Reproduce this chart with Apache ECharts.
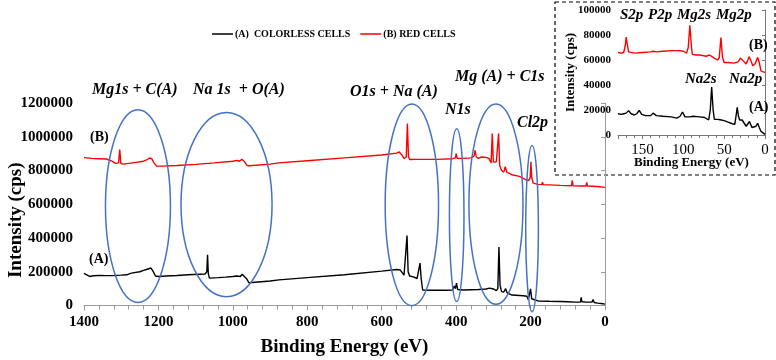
<!DOCTYPE html>
<html><head><meta charset="utf-8">
<script src="https://cdn.jsdelivr.net/npm/echarts@6/dist/echarts.min.js"></script>
<style>html,body{margin:0;padding:0;background:#fff}#c{width:776px;height:360px}</style>
</head><body><div id="c"></div>
<script>
// ---------- DATA ----------
const seriesNames = ['(A)  COLORLESS CELLS', '(B) RED CELLS'];
const mainXTitle = 'Binding Energy (eV)';
const mainYTitle = 'Intensity (cps)';

// Main survey spectrum, sample A (colorless cells): [binding energy eV, intensity cps]
const mainA = [[1400,190000],[1395,182000],[1385,172000],[1375,176000],[1360,178000],[1340,177000],[1320,178000],[1300,180000],[1285,182000],[1275,190000],[1265,195000],[1250,200000],[1240,208000],[1230,215000],[1225,225000],[1220,222000],[1215,205000],[1208,175000],[1200,172000],[1180,175000],[1150,178000],[1120,182000],[1090,185000],[1075,186000],[1070,200000],[1068,300000],[1066,190000],[1063,162000],[1040,165000],[1020,168000],[1000,172000],[995,180000],[990,175000],[980,172000],[975,185000],[970,178000],[962,155000],[957,135000],[940,138000],[900,145000],[876,152000],[800,165000],[700,182000],[600,204000],[560,213000],[550,210000],[545,200000],[540,180000],[535,185000],[532,415000],[529,200000],[525,175000],[515,170000],[505,160000],[500,165000],[497,251000],[494,160000],[490,92000],[470,90000],[430,90000],[410,92000],[405,115000],[402,100000],[399,132000],[396,95000],[380,92000],[340,95000],[320,98000],[310,103000],[300,98000],[292,88000],[288,100000],[285,346000],[282,120000],[278,82000],[272,80000],[267,100000],[263,75000],[250,62000],[220,58000],[210,55000],[206,35000],[203,45000],[200,99000],[197,40000],[193,30000],[180,27000],[150,25000],[120,24000],[100,22000],[80,20000],[66,20000],[64,48000],[62,22000],[50,20000],[35,20000],[32,35000],[29,18000],[20,14000],[10,12000],[0,8000]];

// Main survey spectrum, sample B (red cells)
const mainB = [[1400,876000],[1380,872000],[1360,870000],[1340,868000],[1325,855000],[1315,842000],[1307,845000],[1304,924000],[1301,842000],[1295,838000],[1280,842000],[1260,848000],[1240,855000],[1230,865000],[1224,874000],[1218,870000],[1212,845000],[1205,826000],[1190,826000],[1150,830000],[1100,836000],[1050,845000],[1000,855000],[990,860000],[983,855000],[975,866000],[968,850000],[962,830000],[955,828000],[900,838000],[876,845000],[800,858000],[700,875000],[600,892000],[560,903000],[553,910000],[547,895000],[540,872000],[534,880000],[531,1078000],[528,880000],[524,865000],[510,866000],[499,866000],[497,876000],[494,866000],[450,866000],[410,870000],[402,875000],[400,900000],[397,872000],[380,872000],[360,875000],[352,885000],[349,920000],[346,880000],[340,872000],[332,880000],[328,888000],[320,878000],[312,872000],[306,845000],[303,1019000],[300,850000],[292,852000],[288,860000],[286,1019000],[283,830000],[278,800000],[272,790000],[268,822000],[264,790000],[250,775000],[230,765000],[212,745000],[205,740000],[201,760000],[199,851000],[197,760000],[193,725000],[180,718000],[170,716000],[168,730000],[166,716000],[120,712000],[90,710000],[88,742000],[86,710000],[60,708000],[51,708000],[49,730000],[47,708000],[20,705000],[0,700000]];

// Inset (low binding energy region)
const insetA = [[180,17000],[176,16500],[173,17000],[170,17500],[167,19500],[164,17000],[160,16000],[157,17000],[154,19700],[151,16500],[146,15500],[140,15500],[137,17500],[135,18000],[133,15500],[125,15000],[115,14500],[108,13500],[104,15000],[101,18400],[98,14500],[92,14500],[88,15000],[80,14500],[74,14000],[69,12000],[67,20000],[65.3,38400],[63.5,20000],[62,12500],[58,12500],[55,12200],[50,11500],[46,10500],[40,9000],[37,8500],[35.5,15000],[34,22100],[32.5,15000],[31,12000],[28,12000],[25,9000],[23,7000],[19,10800],[16,6000],[14,5500],[11,7000],[9,9400],[7,6000],[5,3000],[2,1500],[0,500]];
const insetB = [[180,66000],[176,65500],[173,66000],[171,72000],[170,78300],[169,74000],[167,66500],[160,65500],[150,66000],[140,66500],[137,67000],[135,68500],[133,66500],[125,67000],[115,67500],[105,67500],[100,67000],[96,65500],[94,70000],[92,87800],[90,70000],[89,64500],[85,64000],[80,64000],[72,63000],[68,64000],[66,64500],[62,61500],[58,60000],[56,62000],[54,77900],[52,62000],[50,58000],[45,58000],[38,57500],[33,58500],[30,61600],[27,59500],[23,56800],[21,60000],[19.5,62700],[17,59000],[15,55400],[12,57000],[9,62100],[7,58000],[5,51300],[2,50500],[0,50000]];

// Peak-group ellipses on the main plot, in data units: centre eV, centre cps, half-width eV, half-height cps
const ellipseCx = [1255, 1017, 519, 398.5, 293, 196];
const ellipseCy = [589300, 598200, 596400, 535300, 600600, 455800];
const ellipseRx = [87.3, 122.3, 71.7, 19.6, 72.6, 17];
const ellipseRy = [570900, 546000, 597600, 512200, 593500, 492600];

// ---------- CHART ----------
const SERIF = '"Liberation Serif", "Times New Roman", serif';
const chart = echarts.init(document.getElementById('c'), null, {renderer: 'canvas'});
const plain = v => String(v);
const gray = '#9a9a9a';

const option = {
  animation: false,
  backgroundColor: '#fff',
  legend: {
    data: seriesNames.map(n => ({name: n, icon: 'rect'})), left: 207, top: 24, itemWidth: 21, itemHeight: 1.5, itemGap: 10,
    textStyle: {fontFamily: SERIF, fontWeight: 'bold', fontSize: 10, color: '#000', padding: [0,0,0,-3]}
  },
  grid: [
    {left: 84, right: 171, top: 103, bottom: 54.5, outerBoundsMode: 'none', containLabel: false},
    {left: 618, right: 11, top: 10, bottom: 225, outerBoundsMode: 'none', containLabel: false}
  ],
  xAxis: [
    {gridIndex: 0, type: 'value', inverse: true, min: 0, max: 1400, interval: 200,
     name: mainXTitle, nameLocation: 'middle', nameGap: 32, nameMoveOverlap: false,
     nameTextStyle: {fontFamily: SERIF, fontWeight: 'bold', fontSize: 19, color: '#000'},
     axisLine: {lineStyle: {color: gray, width: 1}},
     axisTick: {show: true, length: 5, lineStyle: {color: gray}},
     minorTick: {show: true, splitNumber: 5, length: 4, lineStyle: {color: gray}},
     splitLine: {show: false}, minorSplitLine: {show: false},
     axisLabel: {formatter: plain, margin: 9, fontFamily: SERIF, fontWeight: 'bold', fontSize: 15, color: '#000'}},
    {gridIndex: 1, type: 'value', inverse: true, min: 0, max: 180, interval: 50,
     name: mainXTitle, nameLocation: 'middle', nameGap: 21, nameMoveOverlap: false,
     nameTextStyle: {fontFamily: SERIF, fontWeight: 'bold', fontSize: 13, color: '#000'},
     axisLine: {lineStyle: {color: '#777', width: 1}},
     axisTick: {show: true, length: 4, lineStyle: {color: '#777'}},
     minorTick: {show: true, splitNumber: 5, length: 3, lineStyle: {color: '#777'}},
     splitLine: {show: false},
     axisLabel: {formatter: v => (v % 50 === 0 ? String(v) : ''), margin: 8, fontFamily: SERIF, fontSize: 15, color: '#000'}}
  ],
  yAxis: [
    {gridIndex: 0, type: 'value', min: 0, max: 1200000, interval: 200000,
     name: mainYTitle, nameLocation: 'middle', nameGap: 58, nameMoveOverlap: false,
     nameTextStyle: {fontFamily: SERIF, fontWeight: 'bold', fontSize: 19, color: '#000', padding: [0, 32, 0, 0]},
     axisLine: {show: true, lineStyle: {color: gray, width: 1}},
     axisTick: {show: true, length: 4, lineStyle: {color: gray}},
     splitLine: {show: false},
     axisLabel: {formatter: plain, margin: 11, fontFamily: SERIF, fontWeight: 'bold', fontSize: 15, color: '#000'}},
    {gridIndex: 1, type: 'value', min: 0, max: 100000, interval: 20000,
     name: mainYTitle, nameLocation: 'middle', nameGap: 41, nameMoveOverlap: false,
     nameTextStyle: {fontFamily: SERIF, fontWeight: 'bold', fontSize: 13, color: '#000'},
     axisLine: {show: true, lineStyle: {color: '#777', width: 1}},
     axisTick: {show: true, length: 3, lineStyle: {color: '#777'}},
     splitLine: {show: false},
     axisLabel: {formatter: plain, margin: 7, fontFamily: SERIF, fontWeight: 'bold', fontSize: 11, color: '#000'}}
  ],
  series: [
    {name: seriesNames[0], type: 'line', xAxisIndex: 0, yAxisIndex: 0, data: mainA, symbol: 'none', color: '#000', lineStyle: {color: '#000', width: 1.4}},
    {name: seriesNames[1], type: 'line', xAxisIndex: 0, yAxisIndex: 0, data: mainB, symbol: 'none', color: '#ff0000', lineStyle: {color: '#ff0000', width: 1.4}},
    {name: seriesNames[0], type: 'line', xAxisIndex: 1, yAxisIndex: 1, data: insetA, symbol: 'none', color: '#000', lineStyle: {color: '#000', width: 1.4}},
    {name: seriesNames[1], type: 'line', xAxisIndex: 1, yAxisIndex: 1, data: insetB, symbol: 'none', color: '#ff0000', lineStyle: {color: '#ff0000', width: 1.4}}
  ]
};
chart.setOption(option);

// ---------- ANNOTATIONS ----------
const graphics = [];
graphics.push({type: 'rect', silent: true, z: 0,
  shape: {x: 555, y: 2, width: 220, height: 173},
  style: {fill: 'none', stroke: '#000', lineWidth: 1.2, lineDash: [4, 3]}});
for (let i = 0; i < ellipseCx.length; i++) {
  const c = chart.convertToPixel({xAxisIndex: 0, yAxisIndex: 0}, [ellipseCx[i], ellipseCy[i]]);
  const e = chart.convertToPixel({xAxisIndex: 0, yAxisIndex: 0}, [ellipseCx[i] - ellipseRx[i], ellipseCy[i] + ellipseRy[i]]);
  graphics.push({type: 'ellipse', silent: true, z: 10,
    shape: {cx: c[0], cy: c[1], rx: Math.abs(e[0] - c[0]), ry: Math.abs(c[1] - e[1])},
    style: {fill: 'none', stroke: '#4472C4', lineWidth: 1.5}});
}
function label(text, x, y, size, italic) {
  graphics.push({type: 'text', silent: true, z: 20, x: x, y: y,
    style: {text: text, fill: '#000', fontFamily: SERIF, fontWeight: 'bold', fontStyle: italic ? 'italic' : 'normal',
            fontSize: size, verticalAlign: 'middle', align: 'left'}});
}
label('Mg1s + C(A)', 92, 90, 16, true);
label('Na 1s  + O(A)', 193, 90, 16, true);
label('O1s + Na (A)', 350, 92, 16, true);
label('N1s', 445, 110, 16, true);
label('Mg (A) + C1s', 455, 77, 16, true);
label('Cl2p', 517, 123, 16, true);
label('(B)', 90, 137, 14, false);
label('(A)', 89, 259, 14, false);
label('S2p', 620, 15, 15, true);
label('P2p', 648, 15, 15, true);
label('Mg2s', 677, 15, 15, true);
label('Mg2p', 716, 15, 15, true);
label('(B)', 749, 45, 14, false);
label('Na2s', 685, 79, 15, true);
label('Na2p', 729, 79, 15, true);
label('(A)', 749, 107, 14, false);
chart.setOption({graphic: graphics});
</script></body></html>
